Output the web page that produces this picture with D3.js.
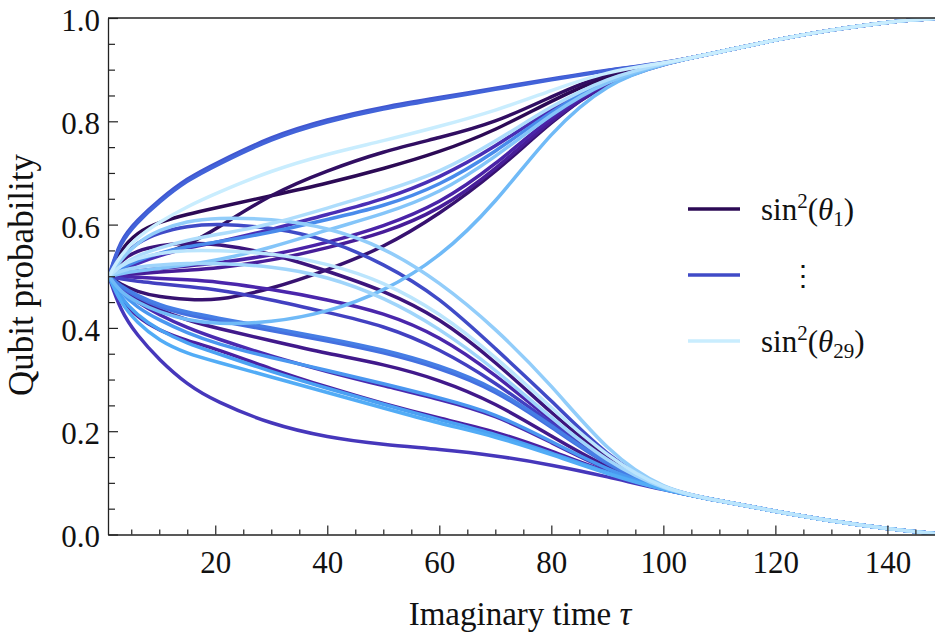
<!DOCTYPE html>
<html>
<head>
<meta charset="utf-8">
<script src="https://cdn.jsdelivr.net/npm/d3@7"></script>
<style>
  body { margin: 0; background: #fff; }
  svg { display: block; font-family: "Liberation Serif", "DejaVu Serif", serif; }
  .tick line { stroke: #222; stroke-width: 1.2; }
  .domain { stroke: #222; stroke-width: 1.3; }
</style>
</head>
<body>
<svg id="chart" width="935" height="634"></svg>
<script>
// imaginary time grid (curves)
var tauHead = [1, 3, 6, 10, 15, 20, 30, 40, 50, 60, 70, 80, 90];
var tauTail = [100, 110, 120, 130, 140, 150];
var upperTail = [0.912, 0.934, 0.958, 0.977, 0.993, 1.0];
var lowerTail = [0.086, 0.065, 0.045, 0.026, 0.011, 0.0];

// qubit index -> head values, and which end the qubit goes to
var q01 = [.5, .55, .585, .605, .62, .632, .656, .68, .708, .74, .782, .84, .89];
var q02 = [.5, .515, .53, .54, .56, .59, .66, .705, .742, .768, .797, .848, .895];
var q03 = [.5, .485, .47, .46, .455, .452, .475, .512, .555, .62, .7, .8, .88];
var q04 = [.5, .53, .55, .56, .565, .563, .545, .51, .473, .42, .335, .235, .145];
var q05 = [.5, .475, .455, .435, .415, .4, .375, .35, .33, .3, .255, .19, .128];
var q06 = [.5, .502, .505, .508, .512, .515, .53, .555, .583, .628, .705, .805, .875];
var q07 = [.5, .46, .42, .395, .375, .36, .32, .285, .253, .225, .2, .162, .12];
var q08 = [.5, .505, .51, .515, .52, .525, .54, .565, .596, .64, .715, .81, .878];
var q09 = [.5, .5, .498, .496, .493, .49, .475, .455, .43, .385, .31, .22, .14];
var q10 = [.5, .475, .45, .425, .4, .38, .345, .315, .288, .262, .232, .178, .124];
var q11 = [.5, .51, .525, .54, .555, .565, .59, .62, .648, .69, .75, .825, .885];
var q12 = [.5, .435, .386, .338, .29, .258, .213, .188, .174, .165, .153, .135, .112];
var q13 = [.5, .495, .49, .486, .48, .475, .455, .43, .405, .36, .295, .215, .138];
var q14 = [.5, .535, .565, .585, .597, .602, .595, .572, .525, .46, .36, .26, .15];
var q15 = [.5, .57, .608, .648, .69, .718, .771, .804, .828, .846, .864, .882, .9];
var q16 = [.5, .565, .604, .644, .686, .714, .767, .8, .825, .843, .862, .88, .899];
var q17 = [.5, .48, .46, .44, .425, .415, .395, .375, .353, .323, .28, .208, .132];
var q18 = [.5, .482, .463, .444, .43, .42, .4, .38, .358, .328, .285, .211, .134];
var q19 = [.5, .515, .53, .545, .558, .565, .585, .61, .635, .675, .74, .82, .883];
var q20 = [.5, .47, .44, .415, .39, .37, .342, .318, .292, .265, .235, .18, .125];
var q21 = [.5, .46, .425, .395, .37, .352, .315, .283, .252, .222, .195, .158, .119];
var q22 = [.5, .45, .41, .375, .35, .335, .305, .275, .245, .215, .19, .155, .117];
var q23 = [.5, .47, .45, .43, .415, .407, .41, .43, .47, .535, .64, .782, .875];
var q24 = [.5, .505, .51, .515, .522, .53, .555, .59, .62, .66, .73, .815, .88];
var q25 = [.5, .53, .565, .59, .607, .613, .612, .595, .557, .49, .4, .29, .16];
var q26 = [.5, .51, .518, .522, .525, .525, .52, .5, .46, .4, .32, .225, .14];
var q27 = [.5, .52, .54, .555, .57, .58, .6, .632, .664, .7, .76, .83, .885];
var q28 = [.5, .52, .535, .545, .55, .55, .545, .525, .49, .43, .345, .245, .15];
var q29 = [.5, .54, .575, .605, .635, .66, .705, .737, .762, .79, .82, .86, .897];

var heads = [q01, q02, q03, q04, q05, q06, q07, q08, q09, q10,
             q11, q12, q13, q14, q15, q16, q17, q18, q19, q20,
             q21, q22, q23, q24, q25, q26, q27, q28, q29];
var goesUp = [1, 1, 1, 0, 0, 1, 0, 1, 0, 0,
              1, 0, 0, 0, 1, 1, 0, 0, 1, 0,
              0, 0, 1, 1, 0, 0, 1, 0, 1];

var xTicks = [20, 40, 60, 80, 100, 120, 140];
var yTicks = [0, 0.2, 0.4, 0.6, 0.8, 1.0];

var svg = d3.select('#chart');
var pLeft = 108, pRight = 935, pTop = 18, pBottom = 534.5;

var x = d3.scaleLinear().domain([0.85, 148.5]).range([pLeft, pRight]);
var y = d3.scaleLinear().domain([0, 1]).range([pBottom, pTop]);

var color = d3.scaleLinear()
  .domain([0, 0.2, 0.35, 0.45, 0.55, 0.66, 0.74, 0.8, 1])
  .range(['#2c0a55', '#4a1fa0', '#4a2cb4', '#4046c4', '#4268dc', '#4a92ee', '#4aa8f5', '#7cc0f8', '#c9edfe']);

function qColor(i){ return color(i / (heads.length - 1)); }

svg.append('defs').append('clipPath').attr('id', 'plotclip')
  .append('rect').attr('x', pLeft).attr('y', pTop)
  .attr('width', pRight - pLeft).attr('height', pBottom - pTop);

var line = d3.line()
  .x(function(d){ return x(d[0]); })
  .y(function(d){ return y(d[1]); })
  .curve(d3.curveBasis);

var g = svg.append('g').attr('clip-path', 'url(#plotclip)');
heads.forEach(function(h, i){
  var tail = goesUp[i] ? upperTail : lowerTail;
  var pts = tauHead.map(function(t, k){ return [t, h[k]]; })
    .concat(tauTail.map(function(t, k){ return [t, tail[k]]; }));
  g.append('path')
    .attr('d', line(pts))
    .attr('fill', 'none')
    .attr('stroke', qColor(i))
    .attr('stroke-width', 3.5);
});

// axes, ticks pointing inward
var xMinor = d3.range(5, 150, 5).filter(function(v){ return v % 20 != 0; });
var yMinor = d3.range(1, 20).filter(function(v){ return v % 4 != 0; }).map(function(v){ return v * 0.05; });

svg.append('g').attr('transform', 'translate(0,' + pBottom + ')')
  .call(d3.axisBottom(x).tickValues(xMinor).tickSize(-5).tickFormat(''))
  .call(function(a){ a.select('.domain').remove(); });
svg.append('g').attr('transform', 'translate(' + pLeft + ',0)')
  .call(d3.axisLeft(y).tickValues(yMinor).tickSize(-7).tickFormat(''))
  .call(function(a){ a.select('.domain').remove(); });

var xa = svg.append('g').attr('transform', 'translate(0,' + pBottom + ')')
  .call(d3.axisBottom(x).tickValues(xTicks).tickSize(-9).tickSizeOuter(0).tickPadding(16).tickFormat(d3.format('d')));
var ya = svg.append('g').attr('transform', 'translate(' + pLeft + ',0)')
  .call(d3.axisLeft(y).tickValues(yTicks).tickSize(-10).tickSizeOuter(0).tickPadding(8).tickFormat(d3.format('.1f')));
ya.selectAll('text').attr('dy', '0.4em');
svg.selectAll('.tick text').attr('font-size', 31).attr('font-family', '"Liberation Serif", serif').attr('fill', '#111');

svg.append('line').attr('x1', pLeft).attr('x2', pRight).attr('y1', pTop).attr('y2', pTop)
  .attr('stroke', '#222').attr('stroke-width', 1.3);

// axis titles
var xt = svg.append('text').attr('x', 520).attr('y', 625).attr('text-anchor', 'middle')
  .attr('font-size', 33).attr('fill', '#111');
xt.append('tspan').text('Imaginary time ');
xt.append('tspan').attr('font-style', 'italic').text('τ');

svg.append('text').attr('transform', 'translate(33,' + 275 + ') rotate(-90)')
  .attr('text-anchor', 'middle').attr('font-size', 35).attr('fill', '#111')
  .text('Qubit probability');

// legend
var legendRows = [209, 275, 341];
var legendIdx = [0, 13, 28];
legendRows.forEach(function(ly, k){
  svg.append('line').attr('x1', 688).attr('x2', 740).attr('y1', ly).attr('y2', ly)
    .attr('stroke', qColor(legendIdx[k])).attr('stroke-width', 3.5);
});

function sinLabel(ly, sub){
  var t = svg.append('text').attr('x', 761).attr('y', ly + 11).attr('font-size', 31).attr('fill', '#111');
  t.append('tspan').text('sin');
  t.append('tspan').attr('font-size', 21).attr('dy', -12).text('2');
  t.append('tspan').attr('dy', 12).text('(');
  t.append('tspan').attr('font-style', 'italic').text('θ');
  t.append('tspan').attr('font-size', 21).attr('dy', 6).text(sub);
  t.append('tspan').attr('dy', -6).text(')');
}
sinLabel(209, '1');
sinLabel(341, '29');
svg.append('text').attr('x', 803).attr('y', 285).attr('text-anchor', 'middle')
  .attr('font-size', 28).attr('font-family', '"DejaVu Serif", serif').attr('fill', '#111').text('⋮');
</script>
</body>
</html>
